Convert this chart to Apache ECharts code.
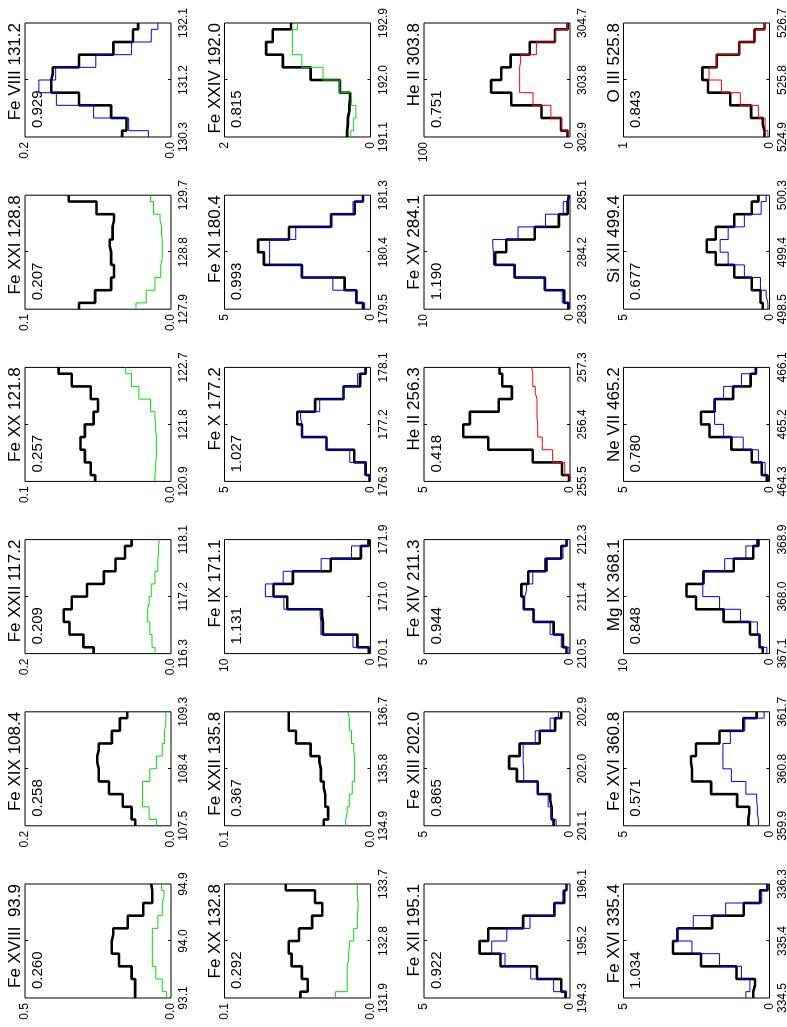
<!DOCTYPE html>
<html>
<head>
<meta charset="utf-8">
<script src="https://cdn.jsdelivr.net/npm/echarts@6/dist/echarts.min.js"></script>
<style>
  html, body { margin: 0; padding: 0; background: #fff; overflow: hidden; }
  /* the figure is drawn landscape and turned a quarter turn, like the printed page */
  #chart {
    position: absolute; left: 0; top: 0;
    width: 1027px; height: 787px;
    transform-origin: 0 0;
    transform: translateY(1027px) rotate(-90deg);
  }
</style>
</head>
<body>
<div id="chart"></div>
<script>
const lineNames = ['Fe XVIII  93.9', 'Fe XIX 108.4', 'Fe XXII 117.2', 'Fe XX 121.8', 'Fe XXI 128.8', 'Fe VIII 131.2',
  'Fe XX 132.8', 'Fe XXII 135.8', 'Fe IX 171.1', 'Fe X 177.2', 'Fe XI 180.4', 'Fe XXIV 192.0',
  'Fe XII 195.1', 'Fe XIII 202.0', 'Fe XIV 211.3', 'He II 256.3', 'Fe XV 284.1', 'He II 303.8',
  'Fe XVI 335.4', 'Fe XVI 360.8', 'Mg IX 368.1', 'Ne VII 465.2', 'Si XII 499.4', 'O III 525.8'];

const ratios = ['0.260', '0.258', '0.209', '0.257', '0.207', '0.929', '0.292', '0.367', '1.131', '1.027', '0.993', '0.815',
  '0.922', '0.865', '0.944', '0.418', '1.190', '0.751', '1.034', '0.571', '0.848', '0.780', '0.677', '0.843'];

// first wavelength bin of each panel (0.2 A bins, 10 bins)
const waveMin = [93.1, 107.5, 116.3, 120.9, 127.9, 130.3, 131.9, 134.9, 170.1, 176.3, 179.5, 191.1,
  194.3, 201.1, 210.5, 255.5, 283.3, 302.9, 334.5, 359.9, 367.1, 464.3, 498.5, 524.9];
const BIN = 0.2;

const intensityMax = [0.5, 0.2, 0.2, 0.1, 0.1, 0.2, 0.1, 0.1, 10, 5, 5, 2, 5, 5, 5, 5, 10, 100, 5, 5, 10, 5, 5, 1];

const modelColor = ['#00e000', '#00e000', '#00e000', '#00e000', '#00e000', '#0000ff', '#00e000', '#00e000',
  '#0000ff', '#0000ff', '#0000ff', '#00e000', '#0000ff', '#0000ff', '#0000ff', '#ff0000', '#0000ff', '#ff0000',
  '#0000ff', '#0000ff', '#0000ff', '#0000ff', '#0000ff', '#ff0000'];

// observed spectra (thick black)
const observed = [
  [0.123, 0.123, 0.135, 0.178, 0.203, 0.198, 0.148, 0.095, 0.064, 0.068],
  [0.049, 0.054, 0.066, 0.085, 0.099, 0.101, 0.099, 0.081, 0.070, 0.060],
  [0.106, 0.120, 0.139, 0.147, 0.136, 0.115, 0.092, 0.076, 0.063, 0.054],
  [0.052, 0.055, 0.059, 0.062, 0.059, 0.053, 0.050, 0.055, 0.068, 0.077],
  [0.063, 0.052, 0.041, 0.039, 0.041, 0.042, 0.040, 0.039, 0.051, 0.070],
  [0.067, 0.061, 0.082, 0.126, 0.164, 0.162, 0.126, 0.079, 0.052, 0.045],
  [0.048, 0.043, 0.047, 0.054, 0.056, 0.049, 0.040, 0.033, 0.038, 0.058],
  [0.032, 0.029, 0.031, 0.032, 0.034, 0.035, 0.041, 0.051, 0.056, 0.056],
  [0.12, 0.9, 3.26, 3.33, 5.7, 6.64, 5.32, 2.72, 0.66, 0.12],
  [0.03, 0.165, 0.555, 1.505, 2.345, 2.51, 1.895, 0.925, 0.355, 0.165],
  [0.255, 0.485, 0.885, 2.35, 3.65, 3.85, 2.79, 1.35, 0.54, 0.255],
  [0.32, 0.31, 0.29, 0.28, 0.42, 0.82, 1.2, 1.43, 1.34, 1.09],
  [0.155, 0.3, 1.13, 2.38, 3.095, 2.8, 1.605, 0.535, 0.2, 0.12],
  [0.56, 0.63, 0.68, 1.105, 1.82, 2.085, 1.725, 1.035, 0.51, 0.3],
  [0.12, 0.24, 0.56, 1.25, 1.585, 1.665, 1.43, 0.835, 0.3, 0.12],
  [0.035, 0.275, 1.275, 2.8, 3.655, 3.43, 2.44, 1.99, 2.32, 2.415],
  [0.11, 0.39, 1.72, 3.79, 5.13, 4.37, 2.41, 0.76, 0.16, 0.07],
  [1.6, 6.2, 19.5, 40.2, 54, 47.1, 40.7, 27.6, 10.3, 1.6],
  [0.555, 0.495, 1.13, 2.345, 3.305, 3.15, 1.965, 0.88, 0.325, 0.07],
  [0.725, 0.695, 1.11, 2.0, 2.655, 2.69, 2.515, 1.71, 0.9, 0.44],
  [0.46, 0.69, 1.34, 3.14, 5.03, 5.68, 4.53, 2.45, 1.11, 0.76],
  [0.09, 0.265, 0.61, 1.305, 2.055, 2.345, 1.88, 1.245, 0.645, 0.46],
  [0.23, 0.31, 0.61, 1.205, 1.84, 2.15, 1.84, 1.205, 0.61, 0.38],
  [0.034, 0.046, 0.126, 0.269, 0.421, 0.46, 0.361, 0.207, 0.103, 0.034]
];

// model spectra (thin coloured)
const modelled = [
  [0.015, 0.030, 0.052, 0.064, 0.064, 0.064, 0.045, 0.030, 0.024, 0.032],
  [0.020, 0.030, 0.039, 0.039, 0.029, 0.020, 0.012, 0.009, 0.007, 0.007],
  [0.022, 0.026, 0.029, 0.032, 0.030, 0.027, 0.022, 0.018, 0.017, 0.016],
  [0.011, 0.0105, 0.010, 0.010, 0.0105, 0.011, 0.014, 0.022, 0.027, 0.031],
  [0.024, 0.017, 0.011, 0.007, 0.006, 0.006, 0.0065, 0.0075, 0.012, 0.014],
  [0.031, 0.058, 0.106, 0.157, 0.181, 0.158, 0.103, 0.054, 0.027, 0.018],
  [0.024, 0.016, 0.016, 0.015, 0.0145, 0.0115, 0.009, 0.0085, 0.009, 0.009],
  [0.017, 0.016, 0.0145, 0.0125, 0.011, 0.011, 0.0115, 0.013, 0.0145, 0.0155],
  [0.0, 1.2, 3.4, 3.45, 5.93, 7.2, 5.98, 3.38, 1.3, 0.2],
  [0.0, 0.2, 0.71, 1.505, 2.345, 2.395, 1.74, 0.925, 0.44, 0.2],
  [0.2, 0.505, 1.29, 2.35, 3.455, 3.455, 2.56, 1.35, 0.6, 0.255],
  [0.27, 0.23, 0.20, 0.26, 0.42, 0.65, 0.94, 1.07, 1.07, 1.0],
  [0.12, 0.56, 1.345, 2.225, 2.68, 2.165, 1.37, 0.535, 0.24, 0.12],
  [0.475, 0.63, 0.75, 1.105, 1.585, 1.605, 1.605, 1.19, 0.68, 0.395],
  [0.035, 0.3, 0.68, 1.225, 1.55, 1.49, 1.275, 0.775, 0.24, 0.085],
  [0.0, 0.18, 0.595, 0.95, 1.105, 1.13, 1.13, 1.19, 1.275, 1.31],
  [0.07, 0.53, 1.72, 3.75, 5.24, 5.29, 3.56, 1.68, 0.46, 0.11],
  [1.1, 5.7, 13.1, 25.3, 34.5, 34.5, 33.8, 23, 9.9, 1.6],
  [0.81, 0.67, 0.96, 1.71, 2.655, 3.185, 2.61, 1.5, 0.265, 0.09],
  [0.38, 0.415, 0.44, 0.81, 1.305, 1.595, 1.595, 1.34, 0.845, 0.185],
  [0.18, 0.65, 0.83, 1.99, 3.42, 4.57, 4.46, 3.07, 1.62, 0.88],
  [0.035, 0.15, 0.38, 0.9, 1.57, 1.88, 1.88, 1.57, 0.96, 0.495],
  [0.055, 0.115, 0.31, 0.86, 1.415, 1.69, 1.415, 0.86, 0.285, 0.115],
  [0.011, 0.03, 0.076, 0.2, 0.329, 0.414, 0.361, 0.207, 0.099, 0.034]
];

const FONT = '"Liberation Sans", Arial, sans-serif';

function buildOption() {
  const grid = [], xAxis = [], yAxis = [], series = [], graphic = [];

  lineNames.forEach((name, i) => {
    const col = i % 6, row = Math.floor(i / 6);
    const left = 29 + col * 172.2, top = 25 + row * 199.5;
    const w = 114, h = 146;
    const lo = waveMin[i], mid = lo + 0.9, hi = lo + 1.8;
    const ymax = intensityMax[i];
    const dec = ymax < 1 ? 1 : 0;

    grid.push({
      left: left, top: top, width: w, height: h,
      show: true, borderColor: '#000', borderWidth: 1,
      containLabel: false, outerBoundsMode: 'none'
    });

    xAxis.push({
      type: 'value', gridIndex: i, min: lo, max: hi, position: 'bottom',
      axisLine: { show: false },
      axisTick: { show: true, inside: true, length: 3, customValues: [mid], lineStyle: { color: '#000' } },
      axisLabel: {
        customValues: [lo, mid, hi], formatter: v => v.toFixed(1),
        color: '#000', fontSize: 12, fontFamily: FONT, margin: 7
      },
      splitLine: { show: false }
    });
    xAxis.push({
      type: 'value', gridIndex: i, min: lo, max: hi, position: 'top',
      axisLine: { show: false },
      axisTick: { show: true, inside: true, length: 3, customValues: [mid], lineStyle: { color: '#000' } },
      axisLabel: { show: false },
      splitLine: { show: false }
    });
    yAxis.push({
      type: 'value', gridIndex: i, min: 0, max: ymax,
      axisLine: { show: false },
      axisTick: { show: false },
      axisLabel: {
        customValues: [0, ymax], formatter: v => v.toFixed(dec),
        color: '#000', fontSize: 12, fontFamily: FONT, margin: 5
      },
      splitLine: { show: false }
    });

    const waves = observed[i].map((_, k) => lo + k * BIN);
    series.push({
      type: 'line', xAxisIndex: 2 * i, yAxisIndex: i, step: 'middle',
      showSymbol: false, silent: true,
      data: waves.map((x, k) => [x, observed[i][k]]),
      lineStyle: { color: '#000', width: 2.6 }, z: 2
    });
    series.push({
      type: 'line', xAxisIndex: 2 * i, yAxisIndex: i, step: 'middle',
      showSymbol: false, silent: true,
      data: waves.map((x, k) => [x, modelled[i][k]]),
      lineStyle: { color: modelColor[i], width: 1 }, z: 3
    });

    graphic.push({
      type: 'text', x: left + w, y: top - 1,
      style: { text: name, fill: '#000', fontSize: 17, fontFamily: FONT, align: 'right', verticalAlign: 'bottom' }
    });
    graphic.push({
      type: 'text', x: left + 9, y: top + 5,
      style: { text: ratios[i], fill: '#000', fontSize: 15, fontFamily: FONT, align: 'left', verticalAlign: 'top' }
    });
  });

  return { animation: false, backgroundColor: '#fff', grid, xAxis, yAxis, series, graphic };
}

const chart = echarts.init(document.getElementById('chart'), null, { renderer: 'canvas' });
chart.setOption(buildOption());
</script>
</body>
</html>
